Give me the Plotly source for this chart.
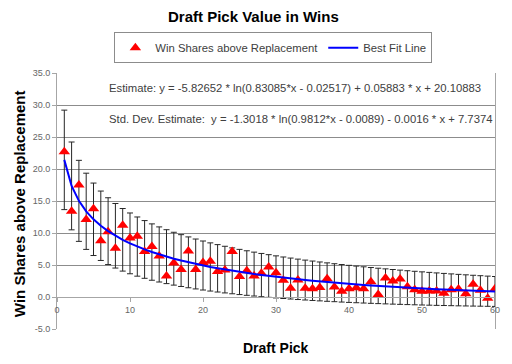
import math
import plotly.graph_objects as go

# ---- data ----
picks = list(range(1, 61))
win_shares = [22.7, 13.4, 17.5, 12.1, 13.8, 8.8, 10.2, 7.6, 11.2, 9.2,
              9.5, 7.1, 7.9, 6.4, 3.3, 5.3, 4.3, 7.2, 4.3, 5.4,
              5.6, 4.0, 4.2, 7.1, 3.2, 4.1, 3.3, 3.7, 4.7, 3.8,
              2.6, 1.35, 2.65, 1.35, 1.3, 1.5, 2.85, 1.55, 0.9, 1.3,
              1.45, 1.3, 2.4, 0.4, 2.95, 2.5, 2.8, 1.6, 1.15, 0.9,
              0.95, 0.95, 0.6, 1.15, 1.25, 0.5, 2.0, 1.05, -0.2, 1.3]

# coefficients printed on the chart
est_coef = [-5.82652, 0.83085, -0.02517, 0.05883, 20.10883]
std_coef = [-1.3018, 0.9812, -0.0089, -0.0016, 7.7374]

est_text = "Estimate: y = -5.82652 * ln(0.83085*x - 0.02517) + 0.05883 * x + 20.10883"
std_text = "Std. Dev. Estimate:  y = -1.3018 * ln(0.9812*x - 0.0089) - 0.0016 * x + 7.7374"

y_ticks = [-5, 0, 5, 10, 15, 20, 25, 30, 35]
x_ticks = [0, 10, 20, 30, 40, 50, 60]


def curve(c, x):
    return c[0] * math.log(c[1] * x + c[2]) + c[3] * x + c[4]


fit_vals = [curve(est_coef, x) for x in picks]
std_vals = [curve(std_coef, x) for x in picks]

FONT = "Liberation Sans, Arial, sans-serif"
GRID = "#8c8c8c"
EDGE = "#a6a6a6"

fig = go.Figure()

# error bars (std dev around the fit)
fig.add_trace(go.Scatter(
    x=picks, y=fit_vals, mode="markers",
    marker=dict(size=1, color="rgba(0,0,0,0)"),
    error_y=dict(type="data", array=std_vals, visible=True,
                 color="#262626", thickness=1, width=3),
    showlegend=False, hoverinfo="skip"))

fig.add_trace(go.Scatter(
    x=picks, y=win_shares, mode="markers", name="Win Shares above Replacement",
    marker=dict(symbol="triangle-up", size=10, color="#ff0000",
                line=dict(width=0))))

fig.add_trace(go.Scatter(
    x=picks, y=fit_vals, mode="lines", name="Best Fit Line",
    line=dict(color="#0000ff", width=2)))

fig.update_layout(
    width=512, height=364,
    margin=dict(l=57, r=12, t=73, b=35),
    paper_bgcolor="white", plot_bgcolor="white",
    font=dict(family=FONT, size=11, color="#333333"),
    showlegend=True,
    legend=dict(orientation="h", x=0.494, xanchor="center", y=1.159, yanchor="top",
                bordercolor="#8c8c8c", borderwidth=1,
                font=dict(family=FONT, size=11.3, color="#404040"),
                itemwidth=30, bgcolor="white"),
    xaxis=dict(range=[0, 60], tickvals=x_ticks, ticktext=[str(v) for v in x_ticks],
               showgrid=False, zeroline=False,
               showline=True, linecolor=EDGE, linewidth=1,
               ticks="outside", ticklen=4, tickcolor=EDGE,
               anchor="free", position=0.125,
               tickfont=dict(family=FONT, size=9, color="#666666")),
    yaxis=dict(range=[-5, 35], tickvals=y_ticks,
               ticktext=["%.1f" % v for v in y_ticks],
               showgrid=True, gridcolor=GRID, gridwidth=1, zeroline=False,
               showline=True, linecolor=EDGE, linewidth=1, mirror=True,
               ticks="outside", ticklen=4, tickcolor=EDGE,
               tickfont=dict(family=FONT, size=9, color="#666666")),
)

fig.add_annotation(text="<b>Draft Pick Value in Wins</b>", xref="paper", yref="paper",
                   x=(256 - 57) / 443, y=1 + (73 - 16.5) / 256,
                   xanchor="center", yanchor="middle", showarrow=False,
                   font=dict(family=FONT, size=15, color="#000000"))
fig.add_annotation(text="<b>Win Shares above Replacement</b>", xref="paper", yref="paper",
                   x=(18.7 - 57) / 443, y=(329 - 204) / 256, textangle=-90,
                   xanchor="center", yanchor="middle", showarrow=False,
                   font=dict(family=FONT, size=15, color="#000000"))
fig.add_annotation(text="<b>Draft Pick</b>", xref="paper", yref="paper",
                   x=(278 - 57) / 443, y=(329 - 347.5) / 256,
                   xanchor="center", yanchor="middle", showarrow=False,
                   font=dict(family=FONT, size=14, color="#000000"))
fig.add_annotation(text=est_text, xref="paper", yref="paper",
                   x=(108 - 57) / 443, y=(329 - 87.7) / 256,
                   xanchor="left", yanchor="middle", showarrow=False,
                   font=dict(family=FONT, size=11.3, color="#404040"))
fig.add_annotation(text=std_text, xref="paper", yref="paper",
                   x=(108 - 57) / 443, y=(329 - 118.5) / 256,
                   xanchor="left", yanchor="middle", showarrow=False,
                   font=dict(family=FONT, size=11.3, color="#404040"))

fig.write_html("out.html", config={"displayModeBar": False},
               post_script="document.body.style.margin='0';document.body.style.overflow='hidden';")
